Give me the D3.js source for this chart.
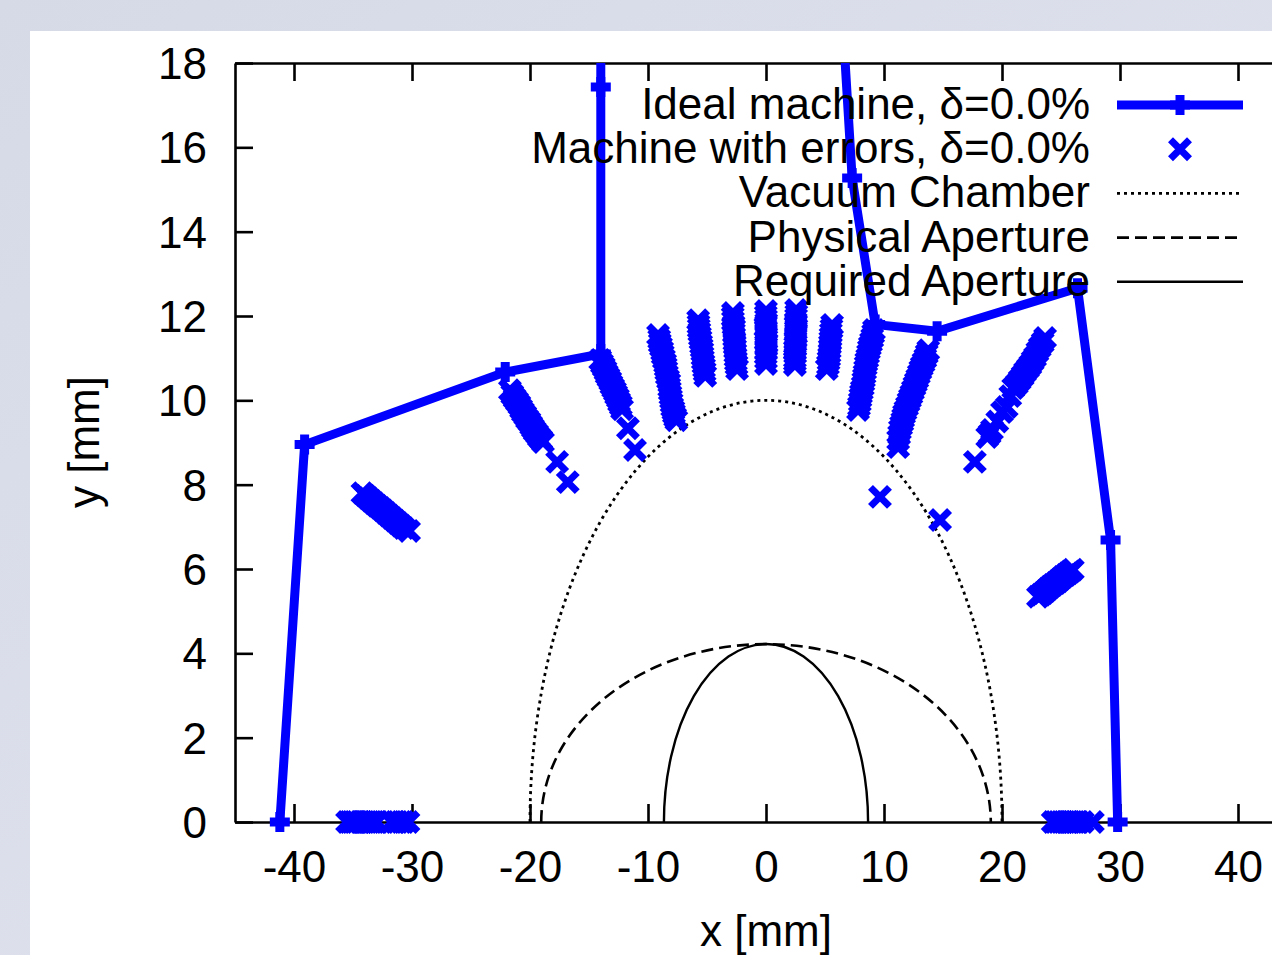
<!DOCTYPE html>
<html><head><meta charset="utf-8">
<script src="https://cdn.jsdelivr.net/npm/d3@7"></script>
<style>
html,body{margin:0;padding:0;background:#d9dde9;}
svg{display:block;}
text{font-family:"Liberation Sans",Arial,Helvetica,sans-serif;fill:#000;}
</style></head>
<body>
<svg id="chart" width="1272" height="955"></svg>
<script>
// ---- data ----
const xTicks = [-40,-30,-20,-10,0,10,20,30,40];
const yTicks = [0,2,4,6,8,10,12,14,16,18];
const legendLabels = ["Ideal machine, \u03b4=0.0%","Machine with errors, \u03b4=0.0%","Vacuum Chamber","Physical Aperture","Required Aperture"];

// ideal machine dynamic aperture (x,y in mm)
const idealX = [-41.2,-39.1,-22.1,-14.0,-14.0,-14.0,5.2,7.3,9.25,14.5,26.4,29.2,29.8];
const idealY = [0,8.95,10.67,11.1,17.43,25,25,15.27,11.8,11.64,12.66,6.69,0];

// machine with errors: clusters of (x,y) points
const errClusterL0 = [[-35.5,0],[-35.3,0],[-35.1,0],[-34.9,0],[-34.7,0],[-34.4,0],[-34.2,0],[-34.0,0],[-33.8,0],[-33.6,0],[-33.4,0],[-33.2,0],[-33.0,0],[-31.7,0],[-31.4,0],[-31.2,0],[-30.9,0],[-30.7,0],[-30.3,0]];
const errClusterR0 = [[24.3,0],[24.5,0],[24.75,0],[25.0,0],[25.2,0],[25.4,0],[25.6,0],[25.8,0],[26.0,0],[26.2,0],[26.4,0],[26.85,0],[27.7,0]];
const errClusterL = [[-34.2,7.8],[-33.95,7.74],[-33.7,7.68],[-33.45,7.62],[-33.2,7.56],[-32.95,7.5],[-32.7,7.45],[-32.45,7.39],[-32.2,7.33],[-31.95,7.27],[-31.7,7.21],[-31.45,7.15],[-31.2,7.09],[-30.95,7.03],[-30.7,6.97],[-30.25,6.9]];
const errClusterA = [[-21.7,10.24],[-21.5,10.14],[-21.3,10.05],[-21.1,9.97],[-20.9,9.89],[-20.75,9.8],[-20.6,9.72],[-20.4,9.64],[-20.25,9.56],[-20.05,9.49],[-19.9,9.41],[-19.75,9.34],[-19.6,9.27],[-19.4,9.2],[-19.25,9.13],[-19.05,9.07],[-18.9,9.01],[-17.7,8.54],[-16.8,8.06]];
const errClusterB = [[-14.05,10.96],[-13.9,10.87],[-13.75,10.79],[-13.6,10.7],[-13.5,10.62],[-13.35,10.54],[-13.2,10.46],[-13.1,10.37],[-12.95,10.29],[-12.8,10.21],[-12.7,10.13],[-12.55,10.05],[-12.45,9.96],[-12.3,9.88],[-12.2,9.79],[-11.7,9.34],[-11.1,8.82]];
const errClusterC = [[-9.15,11.55],[-9.05,11.45],[-9.0,11.36],[-8.9,11.27],[-8.8,11.17],[-8.75,11.08],[-8.65,10.98],[-8.55,10.88],[-8.5,10.79],[-8.45,10.7],[-8.4,10.6],[-8.3,10.5],[-8.2,10.41],[-8.2,10.31],[-8.15,10.22],[-8.1,10.12],[-8.05,10.03],[-8.0,9.94],[-7.95,9.84],[-7.85,9.76],[-7.8,9.68],[-7.7,9.6],[-7.6,9.53]];
const errClusterD = [[-5.75,11.9],[-5.72,11.8],[-5.7,11.71],[-5.65,11.62],[-5.6,11.52],[-5.55,11.43],[-5.5,11.33],[-5.45,11.24],[-5.4,11.15],[-5.38,11.05],[-5.35,10.96],[-5.3,10.86],[-5.25,10.77],[-5.2,10.68],[-5.15,10.58]];
const errClusterE = [[-2.8,12.07],[-2.82,11.98],[-2.8,11.88],[-2.75,11.78],[-2.7,11.69],[-2.72,11.6],[-2.7,11.5],[-2.68,11.4],[-2.65,11.31],[-2.62,11.22],[-2.6,11.12],[-2.58,11.02],[-2.55,10.93],[-2.5,10.84],[-2.45,10.74]];
const errClusterF = [[0.0,12.12],[-0.02,12.02],[0.0,11.93],[0.02,11.84],[-0.05,11.74],[0.0,11.65],[0.0,11.55],[0.03,11.45],[0.05,11.36],[0.02,11.27],[0.0,11.17],[-0.02,11.08],[0.0,10.98],[0.0,10.86]];
const errClusterG = [[2.55,12.14],[2.57,12.04],[2.55,11.95],[2.52,11.86],[2.5,11.76],[2.53,11.66],[2.55,11.57],[2.52,11.48],[2.5,11.38],[2.48,11.28],[2.45,11.19],[2.47,11.1],[2.45,11.0],[2.45,10.92],[2.45,10.84]];
const errClusterH = [[5.6,11.79],[5.55,11.7],[5.5,11.6],[5.47,11.5],[5.45,11.41],[5.42,11.32],[5.4,11.22],[5.38,11.12],[5.35,11.03],[5.3,10.94],[5.25,10.84],[5.15,10.74]];
const errClusterI = [[9.15,11.67],[9.08,11.58],[9.0,11.48],[8.9,11.38],[8.8,11.29],[8.72,11.2],[8.65,11.1],[8.58,11.0],[8.5,10.91],[8.45,10.82],[8.4,10.72],[8.35,10.62],[8.3,10.53],[8.25,10.44],[8.2,10.34],[8.12,10.24],[8.05,10.15],[8.0,10.06],[7.95,9.96],[7.88,9.86],[7.8,9.77]];
const errSingles = [[9.66,7.71],[14.75,7.16]];
const errClusterJ = [[13.75,11.19],[13.62,11.1],[13.5,11.0],[13.35,10.9],[13.2,10.81],[13.08,10.72],[12.95,10.62],[12.82,10.52],[12.7,10.43],[12.58,10.34],[12.45,10.24],[12.32,10.14],[12.2,10.05],[12.08,9.96],[11.95,9.86],[11.82,9.76],[11.7,9.67],[11.62,9.58],[11.55,9.49],[11.45,9.4],[11.35,9.3],[11.28,9.18],[11.2,9.06],[11.2,8.89]];
const errClusterK = [[17.7,8.54],[18.75,9.13],[18.95,9.2],[19.15,9.3],[19.6,9.5],[20.0,9.72],[20.4,9.84],[20.7,10.1],[20.95,10.29],[21.25,10.38],[21.5,10.48],[21.75,10.58],[21.95,10.67],[22.2,10.76],[22.4,10.84],[22.6,10.94],[22.8,11.03],[23.0,11.15],[23.2,11.26],[23.45,11.37],[23.65,11.48]];
const errClusterM = [[23.05,5.34],[23.3,5.39],[23.5,5.43],[23.7,5.48],[23.9,5.53],[24.1,5.58],[24.3,5.62],[24.55,5.67],[24.75,5.71],[24.95,5.76],[25.15,5.81],[25.4,5.86],[25.6,5.9],[25.8,5.94],[26.0,5.98]];

// aperture half-widths / half-heights (mm): vacuum chamber, physical, required
const apertureHalfX = [20.0, 19.05, 8.65];
const apertureHalfY = [10.0, 4.22, 4.22];

// ---- drawing ----
const svg = d3.select("#chart");
const W = 1272, H = 955;
const defs = svg.append("defs");
const grad = defs.append("linearGradient").attr("id","bg").attr("x1","0").attr("y1","0").attr("x2","1").attr("y2","1");
grad.append("stop").attr("offset","0").attr("stop-color","#d6dae7");
grad.append("stop").attr("offset","1").attr("stop-color","#e2e5ef");
svg.append("rect").attr("width",W).attr("height",H).attr("fill","url(#bg)");
svg.append("rect").attr("x",30).attr("y",31).attr("width",W-30).attr("height",H-31).attr("fill","#fff");

const x = d3.scaleLinear().domain([-45,45]).range([235,1297]);
const y = d3.scaleLinear().domain([0,18]).range([822,63]);

defs.append("clipPath").attr("id","clip").append("rect")
  .attr("x",x(-45)).attr("y",y(18)).attr("width",x(45)-x(-45)).attr("height",y(0)-y(18));

const FS = 44;
const fmt = d => String(d);
// axes
const axB = svg.append("g").attr("transform",`translate(0,${y(0)})`)
  .call(d3.axisBottom(x).tickValues(xTicks).tickSizeInner(-18).tickSizeOuter(0).tickPadding(29).tickFormat(fmt));
const axT = svg.append("g").attr("transform",`translate(0,${y(18)})`)
  .call(d3.axisTop(x).tickValues(xTicks).tickSizeInner(-18).tickSizeOuter(0).tickFormat(""));
const axL = svg.append("g").attr("transform",`translate(${x(-45)},0)`)
  .call(d3.axisLeft(y).tickValues(yTicks).tickSizeInner(-18).tickSizeOuter(0).tickPadding(28).tickFormat(fmt));
const axR = svg.append("g").attr("transform",`translate(${x(45)},0)`)
  .call(d3.axisRight(y).tickValues(yTicks).tickSizeInner(-18).tickSizeOuter(0).tickFormat(""));
[axB,axT,axL,axR].forEach(g=>{
  g.selectAll("path.domain").attr("stroke","#000").attr("stroke-width",2.6);
  g.selectAll(".tick line").attr("stroke","#000").attr("stroke-width",2.6);
  g.selectAll(".tick text").attr("font-size",FS).attr("font-family","Liberation Sans, Arial, sans-serif").attr("fill","#000");
});
axL.selectAll(".tick text").attr("dy","0.35em");

// axis titles
svg.append("text").attr("x",x(0)).attr("y",946).attr("text-anchor","middle").attr("font-size",FS).text("x [mm]");
svg.append("text").attr("transform",`translate(99,${442}) rotate(-90)`).attr("text-anchor","middle").attr("font-size",FS).text("y [mm]");

const plot = svg.append("g");
// apertures as elliptical arcs
const apStyles = [
  {dash:"3,4", w:2.8},
  {dash:"12,6", w:2.6},
  {dash:null, w:2.4}
];
apertureHalfX.forEach((a,i)=>{
  const rx = x(a)-x(0), ry = y(0)-y(apertureHalfY[i]);
  const p = plot.append("path")
    .attr("d",`M${x(-a)},${y(0)} A${rx},${ry} 0 0 1 ${x(a)},${y(0)}`)
    .attr("fill","none").attr("stroke","#000").attr("stroke-width",apStyles[i].w);
  if(apStyles[i].dash) p.attr("stroke-dasharray",apStyles[i].dash);
});

const BLUE = "#0000ff";
// ideal line
const idealPts = idealX.map((v,i)=>[v,idealY[i]]);
plot.append("path").attr("clip-path","url(#clip)")
  .attr("d",d3.line().x(d=>x(d[0])).y(d=>y(d[1]))(idealPts))
  .attr("fill","none").attr("stroke",BLUE).attr("stroke-width",9).attr("stroke-linejoin","miter");
const plusPath = (cx,cy,h)=>`M${cx-h},${cy}H${cx+h}M${cx},${cy-h}V${cy+h}`;
const crossPath = (cx,cy,h)=>`M${cx-h},${cy-h}L${cx+h},${cy+h}M${cx-h},${cy+h}L${cx+h},${cy-h}`;
plot.selectAll("path.plus").data(idealPts.filter(d=>d[1]<=18)).enter().append("path")
  .attr("class","plus").attr("d",d=>plusPath(x(d[0]),y(d[1]),10))
  .attr("stroke",BLUE).attr("stroke-width",9).attr("fill","none");

// error points
const errPts = [].concat(errClusterL0,errClusterR0,errClusterL,errClusterA,errClusterB,errClusterC,errClusterD,
  errClusterE,errClusterF,errClusterG,errClusterH,errClusterI,errSingles,errClusterJ,errClusterK,errClusterM);
plot.selectAll("path.cross").data(errPts).enter().append("path")
  .attr("class","cross").attr("d",d=>crossPath(x(d[0]),y(d[1]),9.5))
  .attr("stroke",BLUE).attr("stroke-width",7).attr("fill","none");

// legend
const legTextX = 1090, legY0 = 105, legDY = 44.2, sx1 = 1117, sx2 = 1243, sxm = 1180;
const leg = svg.append("g");
legendLabels.forEach((t,i)=>{
  const cy = legY0 + i*legDY;
  leg.append("text").attr("x",legTextX).attr("y",cy+14).attr("text-anchor","end").attr("font-size",FS).text(t);
  if(i===0){
    leg.append("line").attr("x1",sx1).attr("x2",sx2).attr("y1",cy).attr("y2",cy).attr("stroke",BLUE).attr("stroke-width",9);
    leg.append("path").attr("d",plusPath(sxm,cy,10)).attr("stroke",BLUE).attr("stroke-width",9);
  } else if(i===1){
    leg.append("path").attr("d",crossPath(sxm,cy,9.5)).attr("stroke",BLUE).attr("stroke-width",7);
  } else {
    const st = apStyles[i-2];
    const l = leg.append("line").attr("x1",sx1).attr("x2",sx2).attr("y1",cy).attr("y2",cy).attr("stroke","#000").attr("stroke-width",st.w);
    if(st.dash) l.attr("stroke-dasharray",st.dash);
  }
});
</script>
</body></html>
